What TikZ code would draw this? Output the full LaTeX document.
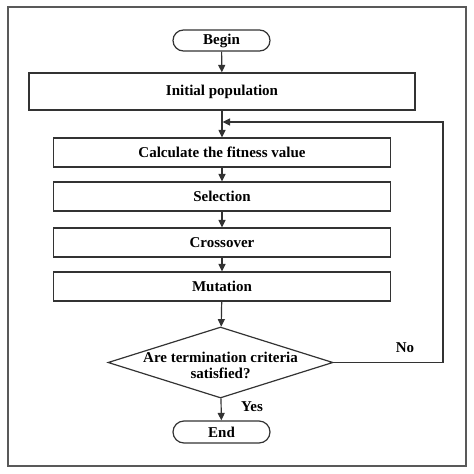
\documentclass[tikz,border=0pt]{standalone}
\usepackage{fontspec}
\setmainfont{Liberation Serif}
\usetikzlibrary{shapes.geometric,shapes.misc,arrows.meta}
\begin{document}
\begin{tikzpicture}[x=1pt,y=-1pt,
  line/.style={draw=black!80,line width=1.2pt},
  arr/.style={line,-{Triangle[length=7.5pt,width=7pt]}},
  txt/.style={font=\bfseries\fontsize{15}{16}\selectfont},
  box/.style={line,txt,rectangle,minimum width=337pt,minimum height=29pt,inner sep=0pt},
  term/.style={line,txt,rounded rectangle,minimum width=97pt,minimum height=21pt,inner sep=0pt},
  dec/.style={line,diamond,minimum width=225pt,minimum height=71pt,inner sep=0pt}]
\useasboundingbox (0,0) rectangle (474,474);
\draw[draw=black!65,line width=1.6pt] (8,7) rectangle (466,466);
\node[term] (begin) at (221.5,40.5) {Begin};
\node[box,minimum width=386pt,minimum height=37pt] (init) at (222,91.5) {Initial population};
\node[box] (calc) at (222,152.5) {Calculate the fitness value};
\node[box] (sel) at (222,196.5) {Selection};
\node[box] (cross) at (222,242.5) {Crossover};
\node[box] (mut) at (222,286.5) {Mutation};
\node[dec] (cond) at (220.5,362.5) {};
\node[txt,align=center,inner sep=0pt] (condtext) at (220.5,365) {Are termination criteria\\satisfied?};
\node[term,minimum height=22pt] (end) at (221.5,432) {End};
\coordinate (fb) at (222.5,122);
\coordinate (corner) at (443,362.5);
\draw[arr] (begin) -- (init);
\draw[arr] (init) -- (calc);
\draw[arr] (calc) -- (sel);
\draw[arr] (sel) -- (cross);
\draw[arr] (cross) -- (mut);
\draw[arr] (mut) -- (cond);
\draw[arr] (cond) -- (end);
\draw[arr] (cond.east) -- (corner) |- (fb);
\node[txt] (no) at (405,348) {No};
\node[txt] (yes) at (252,407) {Yes};
\end{tikzpicture}
\end{document}
